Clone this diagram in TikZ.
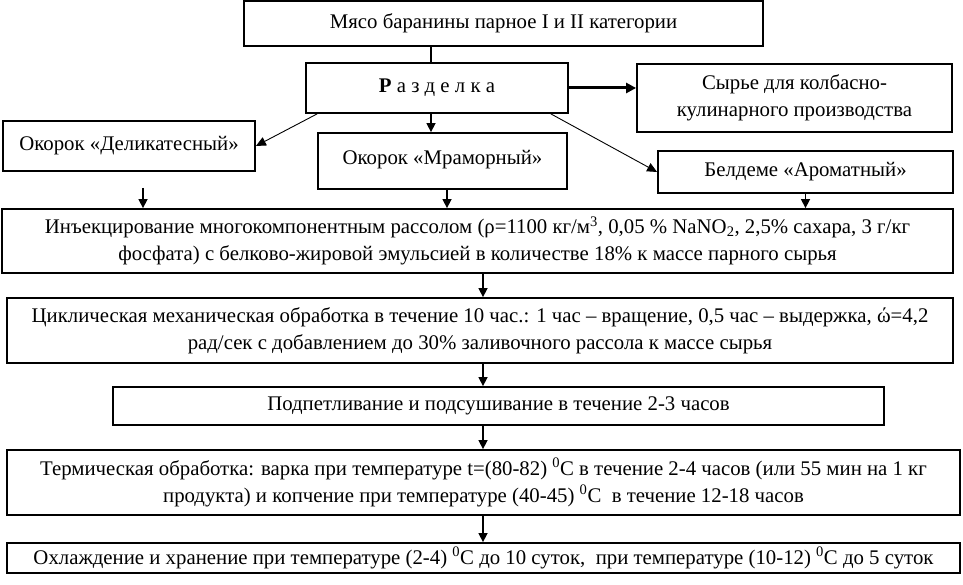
\documentclass[tikz,border=0pt]{standalone}
\usepackage{fontspec}
\setmainfont{Liberation Serif}
\usepackage{tikz}
\usetikzlibrary{arrows.meta}

\begin{document}
\begin{tikzpicture}[x=1pt, y=-1pt,
    box/.style={draw, line width=1.8pt, inner sep=0pt, align=center,
        font=\fontsize{20.8}{27}\selectfont},
    arr/.style={line width=1.5pt, -{Triangle[length=9pt, width=9pt]}},
    thin arr/.style={line width=0.9pt, -{Triangle[length=10pt, width=9pt]}}]
    \useasboundingbox (0, 0) rectangle (963, 585);

    \node[box, minimum width=519, minimum height=45] (meat) at (503.5, 23.5)
        {Мясо баранины парное I и II категории};
    \node[box, minimum width=262, minimum height=50] (cut) at (437, 88)
        {\textbf{Р} а з д е л к а};
    \node[box, minimum width=315, minimum height=68] (raw) at (794.5, 98)
        {Сырье для колбасно-\\кулинарного производства};
    \node[box, minimum width=252, minimum height=50] (delik) at (129, 146)
        {Окорок «Деликатесный»};
    \node[box, minimum width=249, minimum height=56] (marble) at (442.5, 161)
        {\raisebox{8pt}{Окорок «Мраморный»}};
    \node[box, minimum width=295, minimum height=42] (beldeme) at (805.5, 172)
        {Белдеме «Ароматный»};

    \node[box, minimum width=951, minimum height=64] (inject) at (477.5, 241)
        {Инъекцирование многокомпонентным рассолом (ρ=1100 кг/м\textsuperscript{3}, 0,05 \% NaNO\textsubscript{2}, 2,5\% сахара, 3 г/кг\\
        фосфата) с белково-жировой эмульсией в количестве 18\% к массе парного сырья};
    \node[box, minimum width=946, minimum height=65] (tumble) at (480, 330.5)
        {Циклическая механическая обработка в течение 10 час.: 1 час – вращение, 0,5 час – выдержка, ώ=4,2\\
        рад/сек с добавлением до 30\% заливочного рассола к массе сырья};
    \node[box, minimum width=771, minimum height=38] (dry) at (498.5, 406)
        {Подпетливание и подсушивание в течение 2-3 часов};
    \node[box, minimum width=953, minimum height=65] (heat) at (483.5, 482.5)
        {Термическая обработка: варка при температуре t=(80-82) \textsuperscript{0}C в течение 2-4 часов (или 55 мин на 1 кг\\
        продукта) и копчение при температуре (40-45) \textsuperscript{0}C\ \ в течение 12-18 часов};
    \node[box, minimum width=953, minimum height=30] (cool) at (483.5, 558)
        {Охлаждение и хранение при температуре (2-4) \textsuperscript{0}C до 10 суток,\ \ при температуре (10-12) \textsuperscript{0}C до 5 суток};

    % connectors
    \coordinate (axis) at (431, 88);
    \coordinate (spine) at (483, 0);
    \coordinate (free) at (143, 188);
    \draw[line width=1.5pt] (meat.south -| axis) -- (cut.north -| axis);
    \draw[arr] (cut.south -| axis) -- (marble.north -| axis);
    \draw[line width=3pt, -{Triangle[length=10pt, width=10pt]}] (cut.east) -- (cut.east -| raw.west);
    \draw[thin arr] ([xshift=12]cut.south west) -- (delik.east);
    \draw[thin arr] ([xshift=-18]cut.south east) -- (beldeme.west);

    \draw[arr] (free) -- (free |- inject.north);
    \draw[arr] ([xshift=4.5]marble.south) -- ([xshift=4.5]marble.south |- inject.north);
    \draw[arr] (beldeme.south) -- (beldeme.south |- inject.north);

    \draw[arr] (inject.south -| spine) -- (tumble.north -| spine);
    \draw[arr] (tumble.south -| spine) -- (dry.north -| spine);
    \draw[arr] (dry.south -| spine) -- (heat.north -| spine);
    \draw[arr] (heat.south -| spine) -- (cool.north -| spine);
\end{tikzpicture}
\end{document}
